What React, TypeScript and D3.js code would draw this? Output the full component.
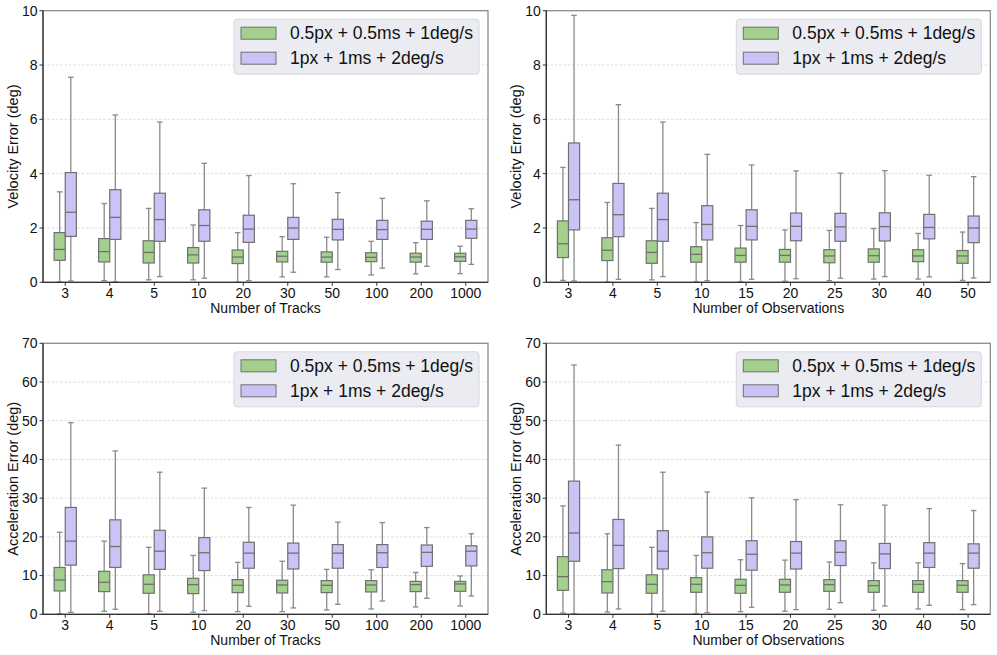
import * as React from "react";
import * as d3 from "d3";

// [low whisker, Q1, median, Q3, high whisker]
type BoxStat = [number, number, number, number, number];

const trackCategories = ["3", "4", "5", "10", "20", "30", "50", "100", "200", "1000"];
const obsCategories = ["3", "4", "5", "10", "15", "20", "25", "30", "40", "50"];
const seriesNames = ["0.5px + 0.5ms + 1deg/s", "1px + 1ms + 2deg/s"];

const velTracksSmall: BoxStat[] = [
  [0.02, 0.81, 1.21, 1.83, 3.33],
  [0.06, 0.75, 1.13, 1.61, 2.9],
  [0.09, 0.71, 1.1, 1.53, 2.72],
  [0.09, 0.71, 1.01, 1.28, 2.11],
  [0.01, 0.69, 0.93, 1.19, 1.83],
  [0.2, 0.75, 0.96, 1.14, 1.68],
  [0.2, 0.74, 0.93, 1.12, 1.66],
  [0.27, 0.76, 0.92, 1.09, 1.51],
  [0.31, 0.74, 0.93, 1.07, 1.46],
  [0.32, 0.77, 0.94, 1.07, 1.33],
];
const velTracksLarge: BoxStat[] = [
  [0.05, 1.69, 2.58, 4.04, 7.55],
  [0.02, 1.58, 2.39, 3.41, 6.16],
  [0.21, 1.51, 2.31, 3.28, 5.9],
  [0.15, 1.51, 2.09, 2.67, 4.38],
  [0.06, 1.47, 1.96, 2.47, 3.93],
  [0.37, 1.58, 2.0, 2.39, 3.63],
  [0.47, 1.56, 1.95, 2.32, 3.3],
  [0.52, 1.58, 1.94, 2.28, 3.09],
  [0.59, 1.58, 1.95, 2.25, 3.0],
  [0.66, 1.62, 1.96, 2.28, 2.71],
];

const velObsSmall: BoxStat[] = [
  [0.07, 0.91, 1.42, 2.26, 4.23],
  [0.02, 0.8, 1.18, 1.64, 2.94],
  [0.09, 0.7, 1.1, 1.53, 2.72],
  [0.02, 0.74, 1.03, 1.31, 2.2],
  [0.02, 0.74, 0.99, 1.26, 2.09],
  [0.04, 0.74, 0.99, 1.21, 1.93],
  [0.06, 0.72, 0.97, 1.2, 1.91],
  [0.12, 0.74, 0.98, 1.23, 1.98],
  [0.12, 0.76, 0.97, 1.2, 1.8],
  [0.07, 0.7, 0.97, 1.17, 1.85],
];
const velObsLarge: BoxStat[] = [
  [0.05, 1.93, 3.04, 5.13, 9.83],
  [0.11, 1.68, 2.49, 3.64, 6.54],
  [0.21, 1.51, 2.31, 3.28, 5.9],
  [0.06, 1.56, 2.13, 2.82, 4.71],
  [0.11, 1.56, 2.06, 2.67, 4.32],
  [0.13, 1.53, 2.06, 2.55, 4.1],
  [0.15, 1.51, 2.04, 2.54, 4.02],
  [0.21, 1.52, 2.05, 2.56, 4.11],
  [0.2, 1.6, 2.02, 2.5, 3.94],
  [0.16, 1.46, 2.0, 2.44, 3.89],
];

const accTracksSmall: BoxStat[] = [
  [0.17, 6.03, 8.87, 12.1, 21.2],
  [0.78, 5.86, 8.27, 11.1, 18.9],
  [0.17, 5.43, 7.75, 10.2, 17.3],
  [0.52, 5.34, 7.67, 9.3, 15.2],
  [0.69, 5.6, 7.49, 8.96, 13.4],
  [0.69, 5.51, 7.58, 8.8, 13.7],
  [1.12, 5.6, 7.49, 8.7, 11.6],
  [1.38, 5.77, 7.58, 8.7, 11.5],
  [1.89, 5.86, 7.67, 8.5, 10.8],
  [2.15, 5.94, 7.84, 8.5, 9.9],
];
const accTracksLarge: BoxStat[] = [
  [0.5, 12.7, 18.9, 27.6, 49.5],
  [1.29, 12.1, 17.5, 24.4, 42.2],
  [0.78, 11.6, 16.3, 21.7, 36.7],
  [0.95, 11.3, 15.9, 19.8, 32.6],
  [2.07, 11.9, 15.8, 18.6, 27.6],
  [1.64, 11.7, 15.8, 18.4, 28.2],
  [2.58, 11.9, 15.8, 18.0, 23.8],
  [3.44, 12.1, 15.9, 18.0, 23.7],
  [4.13, 12.4, 16.0, 17.9, 22.4],
  [4.74, 12.5, 16.3, 17.7, 20.8],
];

const accObsSmall: BoxStat[] = [
  [0.34, 6.2, 9.73, 14.9, 28.0],
  [0.6, 5.51, 8.44, 11.5, 20.8],
  [0.17, 5.43, 7.75, 10.2, 17.3],
  [0.17, 5.68, 7.75, 9.47, 15.2],
  [0.69, 5.43, 7.49, 9.04, 14.1],
  [0.78, 5.68, 7.58, 9.04, 14.0],
  [1.29, 5.94, 7.67, 8.96, 13.5],
  [1.03, 5.68, 7.41, 8.7, 13.3],
  [1.38, 5.68, 7.75, 8.7, 13.3],
  [1.2, 5.68, 7.49, 8.7, 13.1],
];
const accObsLarge: BoxStat[] = [
  [0.17, 13.7, 21.0, 34.4, 64.4],
  [1.38, 11.8, 17.8, 24.5, 43.7],
  [0.78, 11.7, 16.3, 21.6, 36.7],
  [0.43, 11.9, 15.9, 20.0, 31.6],
  [1.81, 11.4, 15.5, 19.0, 30.1],
  [1.2, 11.7, 15.8, 18.8, 29.6],
  [3.01, 12.6, 16.0, 19.0, 28.3],
  [2.15, 11.8, 15.6, 18.3, 28.2],
  [2.32, 12.1, 15.8, 18.5, 27.3],
  [2.5, 11.9, 15.8, 18.2, 26.8],
];

const velTicks = [0, 2, 4, 6, 8, 10];
const accTicks = [0, 10, 20, 30, 40, 50, 60, 70];

const FILLS = ["#a3d08c", "#cbc3f6"];
const EDGE = "#707070";
const WHISKER = "#8a8a8a";
const FONT = "'Liberation Sans', Arial, sans-serif";

function Panel({
  left,
  top,
  right,
  bottom,
  categories,
  series,
  ticks,
  yLabel,
  xLabel,
}: {
  left: number;
  top: number;
  right: number;
  bottom: number;
  categories: string[];
  series: BoxStat[][];
  ticks: number[];
  yLabel: string;
  xLabel: string;
}) {
  const x = d3.scaleBand<string>().domain(categories).range([left, right]).padding(0);
  const y = d3
    .scaleLinear()
    .domain([ticks[0], ticks[ticks.length - 1]])
    .range([bottom, top]);
  const bw = x.bandwidth();
  const boxW = bw * 0.25;
  const capW = boxW * 0.5;
  const offsets = [-boxW / 2, boxW / 2];

  const legW = 245;
  const legX = right - 9 - legW;
  const legY = top + 8.5;

  return (
    <g fontFamily={FONT}>
      {/* grid */}
      {ticks.slice(1, -1).map((t) => (
        <line
          key={t}
          x1={left}
          x2={right}
          y1={y(t)}
          y2={y(t)}
          stroke="#d4d4d4"
          strokeWidth={0.8}
          strokeDasharray="2.5,1.8"
        />
      ))}
      {/* boxes */}
      {series.map((stats, si) =>
        stats.map((s, ci) => {
          const cx = (x(categories[ci]) ?? 0) + bw / 2 + offsets[si];
          const [lo, q1, med, q3, hi] = s;
          return (
            <g key={`${si}-${ci}`}>
              <line x1={cx} x2={cx} y1={y(q3)} y2={y(hi)} stroke={WHISKER} strokeWidth={1.3} />
              <line x1={cx} x2={cx} y1={y(q1)} y2={y(lo)} stroke={WHISKER} strokeWidth={1.3} />
              <line x1={cx - capW / 2} x2={cx + capW / 2} y1={y(hi)} y2={y(hi)} stroke={WHISKER} strokeWidth={1.3} />
              <line x1={cx - capW / 2} x2={cx + capW / 2} y1={y(lo)} y2={y(lo)} stroke={WHISKER} strokeWidth={1.3} />
              <rect
                x={cx - boxW / 2}
                y={y(q3)}
                width={boxW}
                height={y(q1) - y(q3)}
                fill={FILLS[si]}
                stroke={EDGE}
                strokeWidth={1.2}
              />
              <line x1={cx - boxW / 2} x2={cx + boxW / 2} y1={y(med)} y2={y(med)} stroke={EDGE} strokeWidth={1.3} />
            </g>
          );
        })
      )}
      {/* frame */}
      <rect x={left} y={top} width={right - left} height={bottom - top} fill="none" stroke="#8c8c8c" strokeWidth={1.3} />
      <line x1={left} x2={left} y1={top} y2={bottom} stroke="#333" strokeWidth={1.3} />
      <line x1={left} x2={right} y1={bottom} y2={bottom} stroke="#333" strokeWidth={1.3} />
      {/* y axis */}
      {ticks.map((t) => (
        <g key={t} transform={`translate(${left},${y(t)})`}>
          <line x1={-3.5} x2={0} stroke="#333" strokeWidth={1} />
          <text x={-5.5} dy="0.35em" textAnchor="end" fontSize={14} fill="#111">
            {t}
          </text>
        </g>
      ))}
      {/* x axis */}
      {categories.map((c) => (
        <g key={c} transform={`translate(${(x(c) ?? 0) + bw / 2},${bottom})`}>
          <line y1={0} y2={3.5} stroke="#333" strokeWidth={1} />
          <text y={16} textAnchor="middle" fontSize={14} fill="#111">
            {c}
          </text>
        </g>
      ))}
      <text x={(left + right) / 2} y={bottom + 31} textAnchor="middle" fontSize={14} fill="#111">
        {xLabel}
      </text>
      <text
        transform={`translate(${left - 30},${(top + bottom) / 2}) rotate(-90)`}
        textAnchor="middle"
        dy="0.35em"
        fontSize={14.5}
        fill="#111"
      >
        {yLabel}
      </text>
      {/* legend */}
      <rect x={legX} y={legY} width={legW} height={55} rx={3} fill="#ebebf2" stroke="#d6d6de" strokeWidth={1} />
      {seriesNames.map((name, i) => (
        <g key={name} transform={`translate(${legX + 7},${legY + 14 + i * 25})`}>
          <rect x={0} y={-6} width={35} height={12} fill={FILLS[i]} stroke={EDGE} strokeWidth={1} />
          <text x={49} dy="0.35em" fontSize={17.5} fill="#111">
            {name}
          </text>
        </g>
      ))}
    </g>
  );
}

export default function App() {
  return (
    <svg width={997} height={655} style={{ position: "absolute", left: 0, top: 0, background: "#fff" }}>
      <Panel
        left={43}
        top={10.7}
        right={488}
        bottom={282.3}
        categories={trackCategories}
        series={[velTracksSmall, velTracksLarge]}
        ticks={velTicks}
        yLabel="Velocity Error (deg)"
        xLabel="Number of Tracks"
      />
      <Panel
        left={546.3}
        top={10.7}
        right={990.3}
        bottom={282.3}
        categories={obsCategories}
        series={[velObsSmall, velObsLarge]}
        ticks={velTicks}
        yLabel="Velocity Error (deg)"
        xLabel="Number of Observations"
      />
      <Panel
        left={43}
        top={343.3}
        right={488}
        bottom={614.3}
        categories={trackCategories}
        series={[accTracksSmall, accTracksLarge]}
        ticks={accTicks}
        yLabel="Acceleration Error (deg)"
        xLabel="Number of Tracks"
      />
      <Panel
        left={546.3}
        top={343.3}
        right={990.3}
        bottom={614.3}
        categories={obsCategories}
        series={[accObsSmall, accObsLarge]}
        ticks={accTicks}
        yLabel="Acceleration Error (deg)"
        xLabel="Number of Observations"
      />
    </svg>
  );
}
